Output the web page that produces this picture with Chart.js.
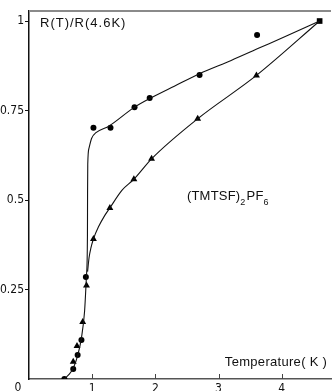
<!DOCTYPE html>
<html lang="en">
<head>
    <meta charset="UTF-8">
    <title>R(T)/R(4.6K) (TMTSF)2PF6</title>
    <script src="https://cdn.jsdelivr.net/npm/chart.js"></script>
    <style>
        body {
            margin: 0;
            padding: 0;
            background: #fff;
        }
        #wrap {
            width: 335px;
            height: 391px;
        }
    </style>
</head>
<body>
    <div id="wrap"><canvas id="rtChart"></canvas></div>

    <script>
        // measured points, sample 1 (circles) and sample 2 (triangles)
        const circleT = [0.56, 0.70, 0.77, 0.83, 0.90, 1.02, 1.29, 1.67, 1.91, 2.70, 3.61];
        const circleR = [0.000, 0.028, 0.067, 0.109, 0.285, 0.702, 0.702, 0.759, 0.785, 0.849, 0.961];
        const triT = [0.70, 0.76, 0.85, 0.91, 1.02, 1.28, 1.66, 1.94, 2.67, 3.60];
        const triR = [0.048, 0.092, 0.159, 0.261, 0.391, 0.478, 0.558, 0.615, 0.727, 0.848];
        // normalisation point at 4.6 K
        const refT = [4.6];
        const refR = [1.0];

        // drawn guide curves
        const curveAT = [0.56, 0.63, 0.70, 0.77, 0.83, 0.88, 0.91, 0.925, 0.927, 0.93, 0.95, 0.99, 1.06, 1.27, 1.66, 1.95, 2.3, 2.7, 3.2, 3.65, 4.1, 4.6];
        const curveAR = [0, 0.012, 0.03, 0.065, 0.115, 0.19, 0.29, 0.40, 0.52, 0.60, 0.645, 0.672, 0.688, 0.707, 0.758, 0.787, 0.818, 0.853, 0.89, 0.925, 0.96, 1.0];
        const curveBT = [0.927, 0.95, 0.98, 1.02, 1.1, 1.2, 1.28, 1.47, 1.66, 1.94, 2.67, 3.6, 4.6];
        const curveBR = [0.30, 0.338, 0.366, 0.391, 0.425, 0.457, 0.478, 0.527, 0.558, 0.615, 0.727, 0.848, 1.0];

        const xTicks = [1, 2, 3, 4];
        const yTicks = [0.25, 0.5, 0.75, 1];

        const pts = (xs, ys) => xs.map((x, i) => ({ x: x, y: ys[i] }));
        const font = "'Liberation Sans', Arial, sans-serif";
        const narrow = "'Liberation Sans Narrow', 'DejaVu Sans Condensed', Arial, sans-serif";

        // frame bits and in-plot labels
        const extras = {
            id: 'extras',
            afterDraw(chart) {
                const ctx = chart.ctx;
                const a = chart.chartArea;
                const xs = chart.scales.x;
                const ys = chart.scales.y;
                ctx.save();
                // top frame line
                ctx.strokeStyle = '#8a8a8a';
                ctx.lineWidth = 2;
                ctx.beginPath();
                ctx.moveTo(a.left, a.top);
                ctx.lineTo(a.right, a.top);
                ctx.stroke();
                // inward ticks on the temperature axis
                ctx.strokeStyle = '#444';
                ctx.lineWidth = 1;
                xTicks.forEach(v => {
                    const px = Math.round(xs.getPixelForValue(v)) + 0.5;
                    ctx.beginPath();
                    ctx.moveTo(px, a.bottom);
                    ctx.lineTo(px, a.bottom - 5);
                    ctx.stroke();
                });
                ctx.fillStyle = '#111';
                ctx.textBaseline = 'middle';
                // origin label
                ctx.font = '12px ' + narrow;
                ctx.textAlign = 'center';
                ctx.fillText('0', a.left - 11, ys.getPixelForValue(0) + 9);
                // axis titles
                ctx.textAlign = 'left';
                ctx.font = '13px ' + font;
                ctx.letterSpacing = '1px';
                ctx.fillText('R(T)/R(4.6K)', a.left + 11, ys.getPixelForValue(1) + 2);
                ctx.letterSpacing = '0.3px';
                ctx.fillText('Temperature( K )', xs.getPixelForValue(3.1), ys.getPixelForValue(0.047));
                // compound name with subscripts
                let x = xs.getPixelForValue(2.5);
                const y = ys.getPixelForValue(0.51);
                ctx.letterSpacing = '0.2px';
                ctx.font = '13px ' + font;
                ctx.fillText('(TMTSF)', x, y);
                x += ctx.measureText('(TMTSF)').width;
                ctx.font = '9px ' + font;
                ctx.fillText('2', x, y + 6);
                x += ctx.measureText('2').width + 1;
                ctx.font = '13px ' + font;
                ctx.fillText('PF', x, y);
                x += ctx.measureText('PF').width;
                ctx.font = '9px ' + font;
                ctx.fillText('6', x, y + 6);
                ctx.restore();
            }
        };

        const ctx = document.getElementById('rtChart').getContext('2d');
        new Chart(ctx, {
            type: 'scatter',
            data: {
                datasets: [
                    {
                        data: pts(curveAT, curveAR),
                        showLine: true,
                        borderColor: '#111',
                        borderWidth: 1.1,
                        pointRadius: 0,
                        cubicInterpolationMode: 'monotone'
                    },
                    {
                        data: pts(curveBT, curveBR),
                        showLine: true,
                        borderColor: '#111',
                        borderWidth: 1.1,
                        pointRadius: 0,
                        cubicInterpolationMode: 'monotone'
                    },
                    {
                        data: pts(circleT, circleR),
                        pointStyle: 'circle',
                        pointRadius: 3,
                        backgroundColor: '#000',
                        borderColor: '#000',
                        borderWidth: 0
                    },
                    {
                        data: pts(triT, triR),
                        pointStyle: 'triangle',
                        pointRadius: 4,
                        backgroundColor: '#000',
                        borderColor: '#000',
                        borderWidth: 0
                    },
                    {
                        data: pts(refT, refR),
                        pointStyle: 'rect',
                        pointRadius: 4,
                        backgroundColor: '#000',
                        borderColor: '#000',
                        borderWidth: 0
                    }
                ]
            },
            options: {
                responsive: true,
                maintainAspectRatio: false,
                animation: false,
                layout: { padding: { top: 11, right: 0, bottom: 0, left: 0 } },
                plugins: {
                    legend: { display: false },
                    tooltip: { enabled: false }
                },
                scales: {
                    x: {
                        type: 'linear',
                        min: 0,
                        max: 4.78,
                        afterBuildTicks: axis => { axis.ticks = xTicks.map(v => ({ value: v })); },
                        afterFit: axis => { axis.height = 12; },
                        border: { display: true, color: '#555', width: 1.5 },
                        grid: { display: false, drawTicks: false },
                        ticks: {
                            padding: 3,
                            color: '#111',
                            maxRotation: 0,
                            font: { family: narrow, size: 12 }
                        }
                    },
                    y: {
                        type: 'linear',
                        min: 0,
                        max: 1.028,
                        afterBuildTicks: axis => { axis.ticks = yTicks.map(v => ({ value: v })); },
                        afterFit: axis => { axis.width = 29; },
                        border: { display: true, color: '#111', width: 1.5 },
                        grid: { drawOnChartArea: false, drawTicks: true, tickLength: 4, color: '#111' },
                        ticks: {
                            padding: 1,
                            color: '#111',
                            font: { family: narrow, size: 12 },
                            callback: v => String(v)
                        }
                    }
                }
            },
            plugins: [extras]
        });
    </script>
</body>
</html>
